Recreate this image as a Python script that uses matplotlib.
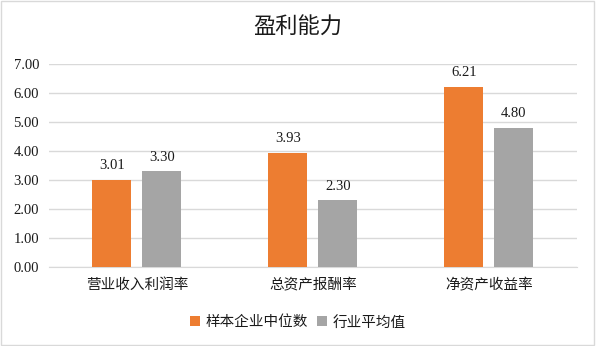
import matplotlib
matplotlib.use("Agg")
import matplotlib.pyplot as plt
import numpy as np
from matplotlib.patches import Rectangle

plt.rcParams['font.family'] = ['Noto Sans CJK SC', 'DejaVu Sans']

categories = ['营业收入利润率', '总资产报酬率', '净资产收益率']
sample_median = [3.01, 3.93, 6.21]
industry_avg = [3.30, 2.30, 4.80]
series_names = ['样本企业中位数', '行业平均值']
yticks = [0, 1, 2, 3, 4, 5, 6, 7]

orange = '#ED7D31'
gray = '#A5A5A5'
text_color = '#1a1a1a'

fig = plt.figure(figsize=(5.96, 3.46), dpi=100)
fig.patches.append(Rectangle((0.002, 0.003), 0.995, 0.994, transform=fig.transFigure,
                             fill=False, edgecolor='#D9D9D9', linewidth=1.0))
ax = fig.add_axes([0.082, 0.228, 0.886, 0.587])

x = np.arange(len(categories))
w = 0.222
off = 0.142
b1 = ax.bar(x - off, sample_median, w, color=orange, label=series_names[0], zorder=3)
b2 = ax.bar(x + off, industry_avg, w, color=gray, label=series_names[1], zorder=3)

# value labels above each bar
for bars, vals in [(b1, sample_median), (b2, industry_avg)]:
    for r, v in zip(bars, vals):
        ax.text(r.get_x() + r.get_width() / 2, v + 0.27, '%.2f' % v, ha='center', va='bottom',
                fontsize=10.5, family='Liberation Serif', color=text_color)

ax.set_xlim(-0.5, 2.5)
ax.set_ylim(0, 7)
ax.set_yticks(yticks)
ax.set_yticklabels(['%.2f' % t for t in yticks], family='Liberation Serif', fontsize=10.5, color=text_color)
ax.set_xticks(x)
ax.set_xticklabels(categories, fontsize=10.5, color=text_color)
ax.tick_params(axis='both', length=0)
ax.tick_params(axis='x', pad=8)
ax.tick_params(axis='y', pad=7)
ax.grid(axis='y', color='#D9D9D9', linewidth=1.0, zorder=0)
for s in ['top', 'right', 'left']:
    ax.spines[s].set_visible(False)
ax.spines['bottom'].set_color('#D9D9D9')

fig.text(0.5, 0.92, '盈利能力', ha='center', va='center', fontsize=16, color=text_color)

fig.legend(loc='center', bbox_to_anchor=(0.5, 0.068), ncol=2, frameon=False,
           fontsize=10.5, handlelength=0.7, handleheight=0.7, handletextpad=0.4,
           columnspacing=0.6, labelcolor=text_color)

fig.savefig('out.png', dpi=100)
